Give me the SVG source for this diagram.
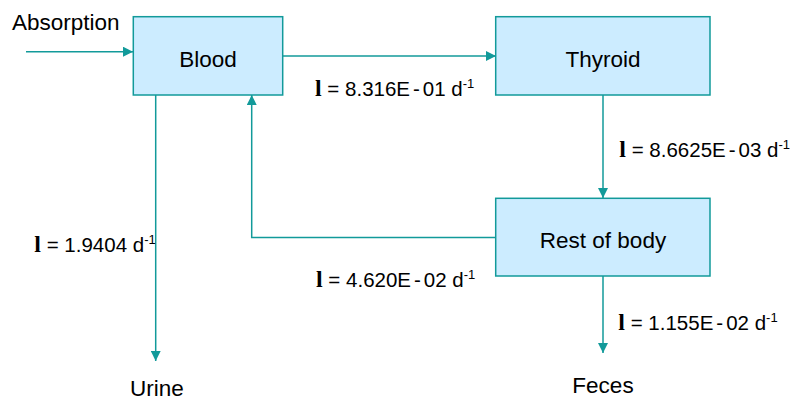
<svg xmlns="http://www.w3.org/2000/svg" width="795" height="403" viewBox="0 0 795 403">
<defs>
<marker id="arr" viewBox="0 0 10 10" refX="10" refY="5" markerWidth="10" markerHeight="10" markerUnits="userSpaceOnUse" orient="auto">
<path d="M0,0 L10,5 L0,10 z" fill="#129A9A"/>
</marker>
</defs>
<style>
.box{fill:#CCECFF;stroke:#129A9A;stroke-width:1.5}
.nt{font-family:"Liberation Sans",Arial,sans-serif;font-size:22.5px;fill:#000;text-anchor:middle}
.t{font-family:"Liberation Sans",Arial,sans-serif;font-size:22.5px;fill:#000}
.lab{font-family:"Liberation Sans",Arial,sans-serif;font-size:20.5px;fill:#000}
.lam{font-family:"Liberation Serif","Times New Roman",serif;font-weight:bold;font-size:24px}
.sup{font-size:13px}
.ln{fill:none;stroke:#129A9A;stroke-width:1.5}
</style>
<rect width="795" height="403" fill="#fff"/>
<g id="connectors">
<line class="ln" x1="26" y1="51.7" x2="133" y2="51.7" marker-end="url(#arr)"/>
<line class="ln" x1="283" y1="56" x2="496" y2="56" marker-end="url(#arr)"/>
<line class="ln" x1="603" y1="95" x2="603" y2="198" marker-end="url(#arr)"/>
<polyline class="ln" points="496,237.5 251.7,237.5 251.7,95" marker-end="url(#arr)"/>
<line class="ln" x1="155.7" y1="95" x2="155.7" y2="361" marker-end="url(#arr)"/>
<line class="ln" x1="603" y1="276" x2="603" y2="353" marker-end="url(#arr)"/>
</g>
<g id="blood">
<rect class="box" x="133.3" y="16.7" width="149.4" height="78.3"/>
<text class="nt" x="208" y="66.7">Blood</text>
</g>
<g id="thyroid">
<rect class="box" x="495.7" y="16.7" width="214.3" height="78.3"/>
<text class="nt" x="603" y="66.7">Thyroid</text>
</g>
<g id="rest">
<rect class="box" x="495.7" y="198.3" width="214.3" height="77.7"/>
<text class="nt" x="603" y="248.3">Rest of body</text>
</g>
<g id="absorption"><text class="t" x="12" y="30">Absorption</text></g>
<g id="urine"><text class="nt" x="157" y="396">Urine</text></g>
<g id="feces"><text class="nt" x="603" y="393">Feces</text></g>
<g id="labels">
<text class="lab" x="315" y="95.7"><tspan class="lam">l</tspan> = 8.316E<tspan dx="3">-</tspan><tspan dx="3">01 d</tspan><tspan class="sup" dy="-8">-1</tspan></text>
<text class="lab" x="619.3" y="156.7"><tspan class="lam">l</tspan> = 8.6625E<tspan dx="3">-</tspan><tspan dx="3">03 d</tspan><tspan class="sup" dy="-8">-1</tspan></text>
<text class="lab" x="34.3" y="252.3"><tspan class="lam">l</tspan> = 1.9404 d<tspan class="sup" dy="-8">-1</tspan></text>
<text class="lab" x="316" y="286.7"><tspan class="lam">l</tspan> = 4.620E<tspan dx="3">-</tspan><tspan dx="3">02 d</tspan><tspan class="sup" dy="-8">-1</tspan></text>
<text class="lab" x="618.3" y="330"><tspan class="lam">l</tspan> = 1.155E<tspan dx="3">-</tspan><tspan dx="3">02 d</tspan><tspan class="sup" dy="-8">-1</tspan></text>
</g>
</svg>
